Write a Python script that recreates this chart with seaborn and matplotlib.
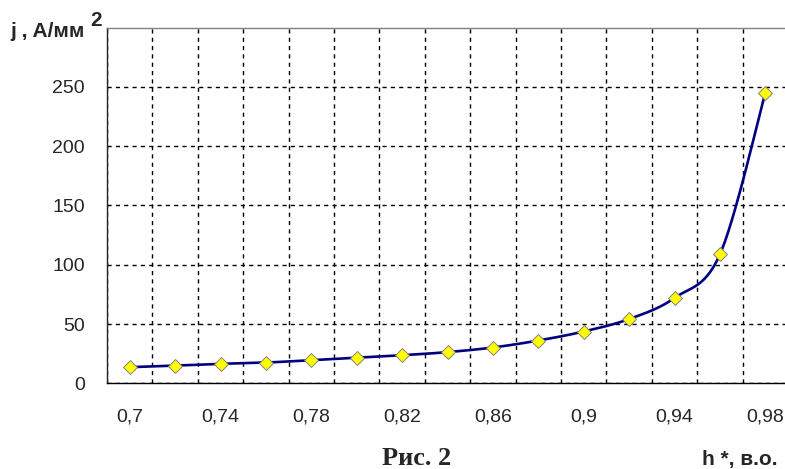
import numpy as np
import matplotlib
matplotlib.use("Agg")
import matplotlib.pyplot as plt
import seaborn as sns
import pandas as pd

# values
h_values = [0.70, 0.72, 0.74, 0.76, 0.78, 0.80, 0.82, 0.84,
            0.86, 0.88, 0.90, 0.92, 0.94, 0.96, 0.98]
j_values = [13.6, 14.9, 16.4, 17.5, 19.5, 21.7, 23.7, 26.3,
            30.2, 36.1, 43.7, 54.2, 72.0, 108.7, 244.9]
h_labels = ["0,7", "", "0,74", "", "0,78", "", "0,82", "",
            "0,86", "", "0,9", "", "0,94", "", "0,98"]
y_ticks = [0, 50, 100, 150, 200, 250]

df = pd.DataFrame({"pos": np.arange(len(h_values)), "j": j_values})

sns.set_style("white")
plt.rcParams["font.family"] = ["Liberation Sans", "DejaVu Sans"]

fig = plt.figure(figsize=(7.85, 4.69), dpi=100)
ax = fig.add_axes([107 / 785, 1 - 383.3 / 469, 681 / 785, (383.3 - 27.7) / 469])


def smooth(x, y, n=30):
    # excel-like smoothed line (bezier through points, 1/6 tangents)
    pts = np.column_stack([x, y]).astype(float)
    ext = np.vstack([pts[0], pts, pts[-1]])
    t = np.linspace(0, 1, n)[:, None]
    out = []
    for i in range(len(pts) - 1):
        p0 = ext[i + 1]
        p3 = ext[i + 2]
        c1 = p0 + (ext[i + 2] - ext[i]) / 6
        c2 = p3 - (ext[i + 3] - ext[i + 1]) / 6
        seg = ((1 - t) ** 3) * p0 + 3 * ((1 - t) ** 2) * t * c1 + 3 * (1 - t) * t ** 2 * c2 + t ** 3 * p3
        out.append(seg)
    out = np.vstack(out)
    return out[:, 0], out[:, 1]


sx, sy = smooth(df["pos"], df["j"])
ax.plot(sx, sy, color="#000080", lw=1.9, zorder=3)
sns.scatterplot(data=df, x="pos", y="j", marker="D", s=50, color="#FFFF00",
                edgecolor="#808080", linewidth=0.7, zorder=4, ax=ax, legend=False)

ax.set_xlim(-0.5, len(h_values) - 0.5)
ax.set_ylim(0, 300)
ax.set_xticks(df["pos"])
ax.set_xticklabels(h_labels)
ax.set_xticks(np.arange(-0.5, len(h_values)), minor=True)
ax.set_yticks(y_ticks)
ax.set_yticklabels([str(v) for v in y_ticks])
ax.set_yticks([300], minor=True)

ax.tick_params(axis="x", which="major", length=0, pad=18, labelsize=14)
ax.tick_params(axis="x", which="minor", length=5, width=1, color="black", direction="out")
ax.tick_params(axis="y", which="major", length=5, width=1, color="black", direction="out",
               pad=11, labelsize=14)
ax.tick_params(axis="y", which="minor", length=0)
ax.set_xlabel("")
ax.set_ylabel("")

ax.grid(False)
ax.xaxis.grid(True, which="minor", color="black", linestyle=(0, (3, 3)), lw=1)
ax.yaxis.grid(True, which="major", color="black", linestyle=(0, (3, 3)), lw=1)
ax.set_axisbelow(True)

ax.spines["left"].set_color("#222222")
ax.spines["bottom"].set_color("black")
ax.spines["top"].set_color("#808080")
ax.spines["right"].set_visible(False)
for s in ax.spines.values():
    s.set_linewidth(1)

fig.text(10 / 785, 1 - 37 / 469, "j , A/мм", fontsize=15, fontweight="bold",
         ha="left", va="baseline")
fig.text(90 / 785, 1 - 26 / 469, "2", fontsize=15, fontweight="bold",
         ha="left", va="baseline")
fig.text(382 / 785, 1 - 465 / 469, "Рис. 2", fontsize=19, fontweight="bold",
         family=["Liberation Serif", "DejaVu Serif"], ha="left", va="baseline")
fig.text(702 / 785, 1 - 465 / 469, "h *, в.о.", fontsize=15, fontweight="bold",
         ha="left", va="baseline")

fig.savefig("out.png", dpi=100)
